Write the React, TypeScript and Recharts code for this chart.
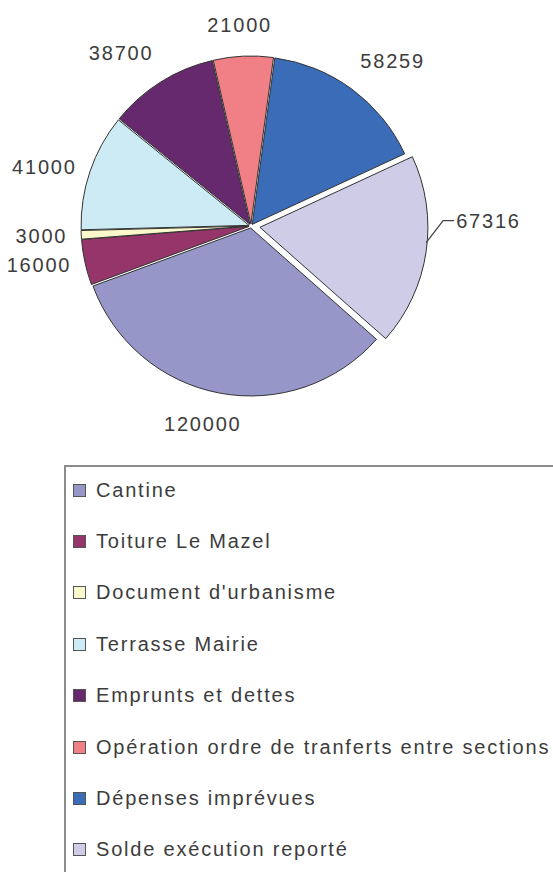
import React from "react";
import { PieChart, Pie, Cell } from "recharts";

const names = [
  "Cantine",
  "Toiture Le Mazel",
  "Document d'urbanisme",
  "Terrasse Mairie",
  "Emprunts et dettes",
  "Opération ordre de tranferts entre sections",
  "Dépenses imprévues",
  "Solde exécution reporté",
];
const values = [120000, 16000, 3000, 41000, 38700, 21000, 58259, 67316];
const colors = ["#9696c8", "#95356a", "#fbf8cc", "#cdebf4", "#66296e", "#f07f86", "#3a6cb8", "#cfcce8"];

const EXPLODED = 7;
const CX = 251;
const CY = 226;
const R = 168;
const START = -41.5;
const PUSH = 9;
const GAP = 2;
const RAD = Math.PI / 180;
const FONT = "'Liberation Sans', Arial, sans-serif";
const INK = "#3c3c3c";

const data = names.map((name, i) => ({ name, value: values[i] }));
const total = values.reduce((a, b) => a + b, 0);

// each slice is pushed out a little along its middle angle, the last one a lot
const shiftOf = (k: number) => {
  const before = values.slice(0, k).reduce((a, b) => a + b, 0);
  const mid = START - ((before + values[k] / 2) / total) * 360;
  const d = k === EXPLODED ? PUSH : GAP;
  return { x: Math.cos(mid * RAD) * d, y: -Math.sin(mid * RAD) * d };
};

const textStyle = { fontFamily: FONT, fontSize: 20, letterSpacing: 1.8, fill: INK };

const makeLabel = (k: number) => (p: any) => {
  const i = p.index;
  if (i !== k) return null;
  const dx = Math.cos(-p.midAngle * RAD);
  const dy = Math.sin(-p.midAngle * RAD);
  const txt = String(values[i]);
  if (i === EXPLODED) {
    const x0 = p.cx + p.outerRadius * dx;
    const y0 = p.cy + p.outerRadius * dy - 9;
    const x1 = x0 + 17;
    const y1 = y0 - 22;
    const x2 = x1 + 11;
    return (
      <g>
        <polyline points={`${x0},${y0} ${x1},${y1} ${x2},${y1}`} fill="none" stroke="#444" strokeWidth={1.3} />
        <text x={x2 + 2} y={y1} textAnchor="start" dominantBaseline="central" style={textStyle}>
          {txt}
        </text>
      </g>
    );
  }
  const w = txt.length * 12.9;
  const r = p.outerRadius + 14;
  const px = p.cx + r * dx;
  const py = p.cy + r * dy;
  const anchor = dx > 0.25 ? "start" : dx < -0.25 ? "end" : "middle";
  const x = anchor === "middle" ? px + dx * w : px;
  const y = dy < -0.5 ? py - 17 : dy > 0.5 ? py + 17 : py;
  return (
    <text x={x} y={y} textAnchor={anchor} dominantBaseline="central" style={textStyle}>
      {txt}
    </text>
  );
};

export default function App() {
  return (
    <div
      style={{
        position: "absolute",
        left: 0,
        top: 0,
        width: 553,
        height: 872,
        overflow: "hidden",
        background: "#fff",
        fontFamily: FONT,
      }}
    >
      <PieChart width={553} height={460} margin={{ top: 0, right: 0, bottom: 0, left: 0 }}>
        {values.map((_, k) => {
          const s = shiftOf(k);
          return (
            <Pie
              key={k}
              data={data}
              dataKey="value"
              cx={CX + s.x}
              cy={CY + s.y}
              outerRadius={R}
              startAngle={START}
              endAngle={START - 360}
              stroke="#333"
              strokeWidth={1}
              labelLine={false}
              label={makeLabel(k)}
              isAnimationActive={false}
            >
              {data.map((_, i) =>
                i === k ? (
                  <Cell key={i} fill={colors[i]} stroke="#333" />
                ) : (
                  <Cell key={i} fill="none" stroke="none" />
                )
              )}
            </Pie>
          );
        })}
      </PieChart>
      <div
        style={{
          position: "absolute",
          left: 64,
          top: 465,
          width: 620,
          height: 460,
          border: "2px solid #8c8c8c",
        }}
      >
        {names.map((n, i) => (
          <div
            key={n}
            style={{
              position: "absolute",
              left: 7,
              top: 23 + i * 51.4 - 12,
              height: 24,
              display: "flex",
              alignItems: "center",
              whiteSpace: "nowrap",
              fontSize: 20,
              letterSpacing: 1.8,
              color: INK,
            }}
          >
            <span
              style={{
                display: "inline-block",
                width: 11,
                height: 11,
                background: colors[i],
                border: "1px solid #555",
                marginRight: 10,
              }}
            />
            {n}
          </div>
        ))}
      </div>
    </div>
  );
}
